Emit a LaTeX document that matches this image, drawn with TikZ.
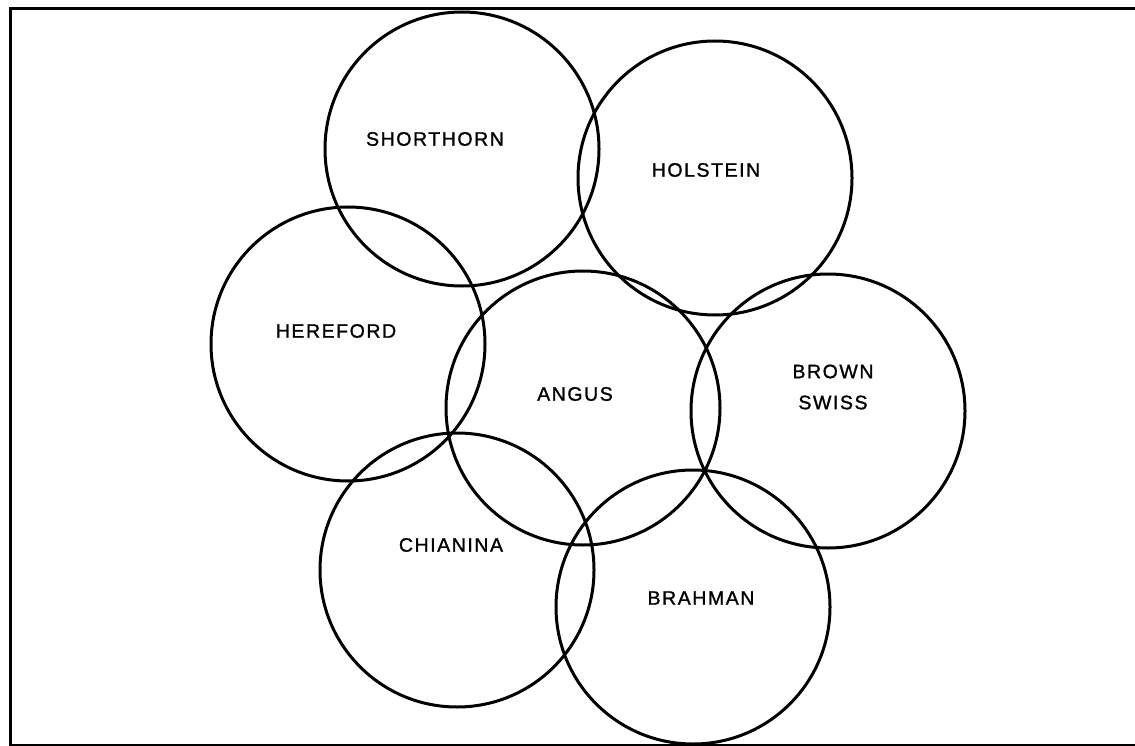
\documentclass[tikz,border=0pt]{standalone}
\usepackage{fontspec}
\setmainfont{Liberation Sans}[LetterSpace=8, FakeBold=1.2]

\begin{document}
\begin{tikzpicture}[x=1pt, y=-1pt,
    breed/.style={draw, circle, line width=3pt, minimum size=274pt, inner sep=0pt},
    tag/.style={inner sep=0pt, font=\fontsize{19.5}{31}\selectfont, align=center}]
    \useasboundingbox (0,0) rectangle (1135,746);
    % frame
    \draw[line width=3pt] (1135,9) -- (10,9) -- (10,745) -- (1135,745);
    % circles
    \node[breed] (shorthorn) at (462,149) {};
    \node[breed] (holstein) at (715,178) {};
    \node[breed] (hereford) at (348,344) {};
    \node[breed] (angus) at (583,408) {};
    \node[breed] (brownswiss) at (828,411) {};
    \node[breed] (chianina) at (457,570) {};
    \node[breed] (brahman) at (693,607) {};
    % labels
    \node[tag] (shorthornlbl) at (435,139) {SHORTHORN};
    \node[tag] (holsteinlbl) at (706,170) {HOLSTEIN};
    \node[tag] (herefordlbl) at (336,331) {HEREFORD};
    \node[tag] (anguslbl) at (575,394) {ANGUS};
    \node[tag] (brownswisslbl) at (833,387) {BROWN\\SWISS};
    \node[tag] (chianinalbl) at (451,545) {CHIANINA};
    \node[tag] (brahmanlbl) at (701,598) {BRAHMAN};
\end{tikzpicture}
\end{document}
